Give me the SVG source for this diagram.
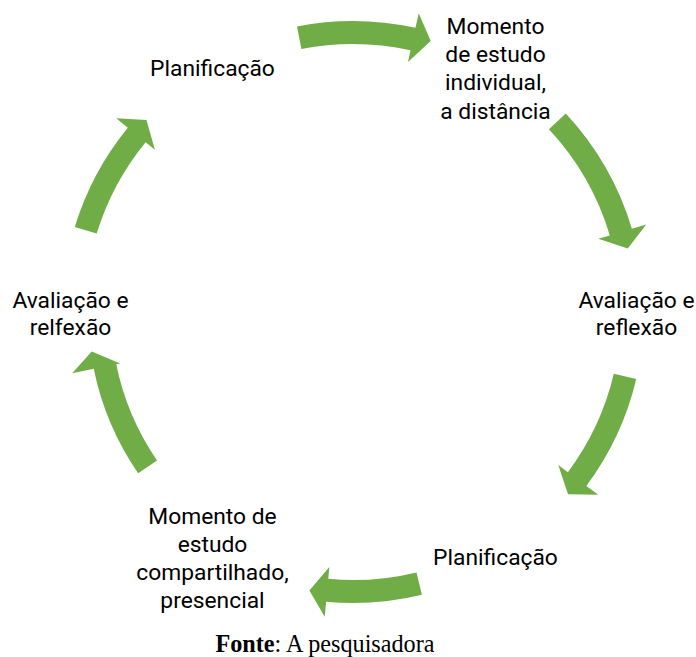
<svg xmlns="http://www.w3.org/2000/svg" width="696" height="657" viewBox="0 0 696 657">
<style>
.lbl{font-family:Roboto,"Liberation Sans",sans-serif;font-size:22.8px;fill:#000;text-anchor:middle}
.arr{fill:#70AD47}
.cap{font-family:"Liberation Serif","Times New Roman",serif;font-size:24.2px;fill:#000;text-anchor:middle}
</style>
<rect width="696" height="657" fill="#fff"/>
<g id="connectors">
<g transform="translate(353,312) rotate(12.4)"><path class="arr" d="M-116,-266.9 A291,291 0 0 1 0,-291 L0,-306 L17.7,-281.4 L0,-256 L0,-268 A268,268 0 0 0 -106.9,-245.8 Z"/></g>
<g transform="translate(353,312) rotate(73.4)"><path class="arr" d="M-129.4,-260.6 A291,291 0 0 1 0,-291 L0,-306 L17.7,-281.4 L0,-256 L0,-268 A268,268 0 0 0 -119.2,-240 Z"/></g>
<g transform="translate(353,312) rotate(126.7)"><path class="arr" d="M-115.6,-267.1 A291,291 0 0 1 0,-291 L0,-306 L17.7,-281.4 L0,-256 L0,-268 A268,268 0 0 0 -106.4,-246 Z"/></g>
<g transform="translate(353,312) rotate(185.3)"><path class="arr" d="M-94.7,-275.1 A291,291 0 0 1 0,-291 L0,-306 L17.7,-281.4 L0,-256 L0,-268 A268,268 0 0 0 -87.3,-253.4 Z"/></g>
<g transform="translate(373,312) rotate(258.5)"><path class="arr" d="M-111.3,-262.3 A285,285 0 0 1 0,-285 L0,-307 L17.3,-283.5 L0,-258 L0,-262 A262,262 0 0 0 -102.4,-241.2 Z"/></g>
<g transform="translate(353,312) rotate(309.3)"><path class="arr" d="M-110.4,-269.2 A291,291 0 0 1 0,-291 L0,-306 L17.7,-281.4 L0,-256 L0,-268 A268,268 0 0 0 -101.7,-248 Z"/></g>
</g>
<g id="node1"><text class="lbl" x="212.5" y="75.5">Planificação</text></g>
<g id="node2"><text class="lbl" x="495.5" y="33.5">Momento</text><text class="lbl" x="495.5" y="61.5">de estudo</text><text class="lbl" x="495.5" y="90">individual,</text><text class="lbl" x="495.5" y="118.5">a distância</text></g>
<g id="node3"><text class="lbl" x="636.5" y="307.5">Avaliação e</text><text class="lbl" x="636.5" y="335">reflexão</text></g>
<g id="node4"><text class="lbl" x="495.5" y="565">Planificação</text></g>
<g id="node5"><text class="lbl" x="212.5" y="524">Momento de</text><text class="lbl" x="212.5" y="551.5">estudo</text><text class="lbl" x="212.5" y="580">compartilhado,</text><text class="lbl" x="212.5" y="607.5">presencial</text></g>
<g id="node6"><text class="lbl" x="70.5" y="307.5">Avaliação e</text><text class="lbl" x="70.5" y="335">relfexão</text></g>
<g id="caption"><text class="cap" x="325" y="652"><tspan font-weight="bold">Fonte</tspan>: A pesquisadora</text></g>
</svg>
